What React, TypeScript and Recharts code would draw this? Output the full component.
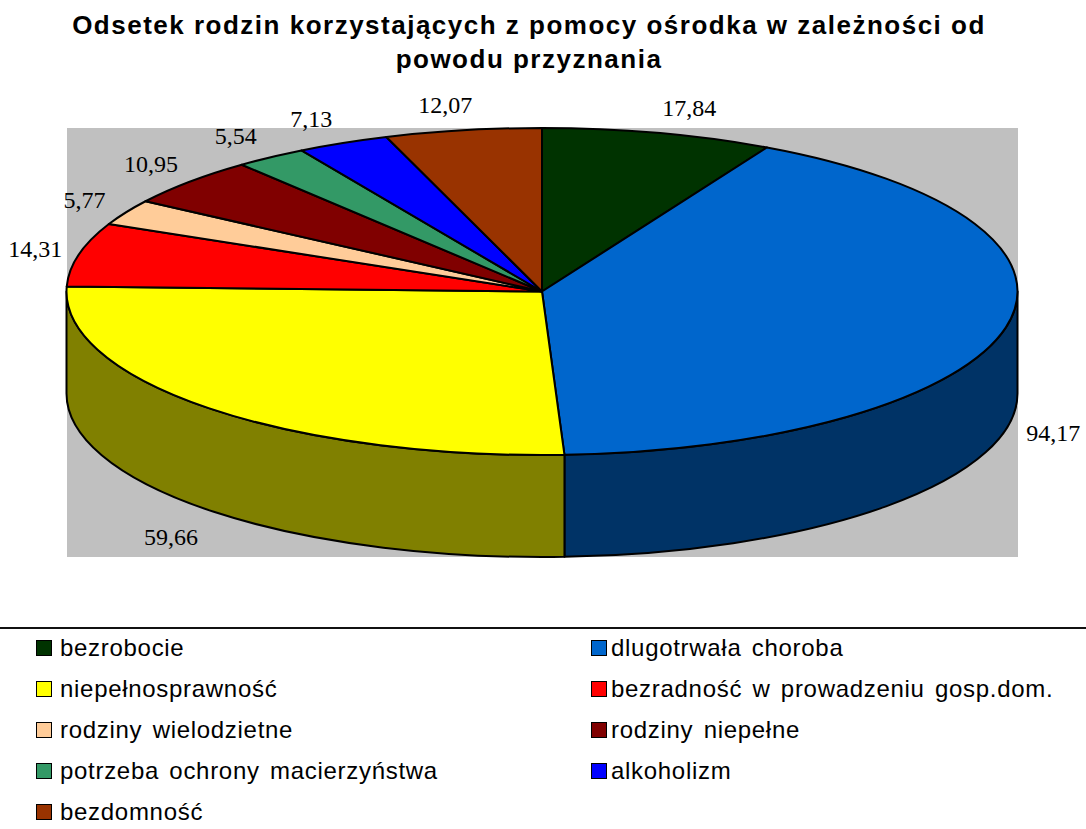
import { PieChart, Pie, Cell, Legend } from 'recharts'

const categories = [
  'bezrobocie',
  'dlugotrwała choroba',
  'niepełnosprawność',
  'bezradność w prowadzeniu gosp.dom.',
  'rodziny wielodzietne',
  'rodziny niepełne',
  'potrzeba ochrony macierzyństwa',
  'alkoholizm',
  'bezdomność'
]
const values = [17.84, 94.17, 59.66, 14.31, 5.77, 10.95, 5.54, 7.13, 12.07]
const topColors = ['#003300', '#0066CC', '#FFFF00', '#FF0000', '#FFCC99', '#800000', '#339966', '#0000FF', '#993300']
const wallColors = ['#001900', '#003366', '#808000', '#7F0000', '#80664C', '#400000', '#1A4C33', '#000080', '#4C1900']
const titleLines = ['Odsetek rodzin korzystających z pomocy ośrodka w zależności od', 'powodu przyznania']

const data = categories.map((name, i) => ({ name, value: values[i] }))

// the pie is flattened into an ellipse, radius is the horizontal one
const CX = 542
const CY = 291.5
const RX = 475.5
const RY = 163.5
const DEPTH = 102

const pt = (angle: number, dy = 0) => {
  const a = (angle * Math.PI) / 180
  return `${CX + RX * Math.cos(a)} ${CY + dy - RY * Math.sin(a)}`
}

function TopSlice(props: any) {
  const { startAngle, endAngle, fill } = props
  const large = Math.abs(startAngle - endAngle) > 180 ? 1 : 0
  const d = `M ${CX} ${CY} L ${pt(startAngle)} A ${RX} ${RY} 0 ${large} 1 ${pt(endAngle)} Z`
  return <path d={d} fill={fill} stroke="#000" strokeWidth={2} strokeLinejoin="round" />
}

function WallSlice(props: any) {
  const { startAngle, endAngle, fill } = props
  // only the front half of the rim can be seen
  const s = Math.min(startAngle, 0)
  const e = Math.max(endAngle, -180)
  if (s <= e) return <g />
  const d = `M ${pt(s)} A ${RX} ${RY} 0 0 1 ${pt(e)} L ${pt(e, DEPTH)} A ${RX} ${RY} 0 0 0 ${pt(s, DEPTH)} Z`
  return <path d={d} fill={fill} stroke="#000" strokeWidth={2} strokeLinejoin="round" />
}

function ValueLabel(props: any) {
  const { midAngle, value } = props
  const a = (midAngle * Math.PI) / 180
  const sin = Math.cos(a)
  const cos = Math.sin(a)
  const shift = Math.min(120 * Math.abs(sin), 25 + 21 * Math.abs(sin))
  const x = CX + RX * sin + Math.sign(sin) * shift + 2
  const front = cos < 0
  const y = CY - RY * cos + (front ? DEPTH - 7 - 47 * cos : -26 * cos) + 8
  return (
    <text x={x} y={y} textAnchor="middle" fontFamily="Liberation Serif" fontSize={24} fill="#000">
      {String(value).replace('.', ',')}
    </text>
  )
}

function LegendBlock(props: any) {
  const items = ((props.payload || []) as any[]).filter(item => topColors.includes(item.color))
  return (
    <div
      style={{
        position: 'absolute',
        left: 0,
        top: 627,
        width: 1086,
        height: 202,
        borderTop: '2px solid #111',
        boxSizing: 'border-box',
        fontFamily: 'Liberation Sans',
        fontSize: 24,
        letterSpacing: 0.7,
        wordSpacing: 3,
        color: '#000'
      }}
    >
      {items.map((item, i) => (
        <div
          key={item.value}
          style={{
            position: 'absolute',
            left: i % 2 === 0 ? 36 : 591,
            top: 1 + Math.floor(i / 2) * 41,
            height: 36,
            lineHeight: '36px',
            whiteSpace: 'nowrap'
          }}
        >
          <span
            style={{
              display: 'inline-block',
              width: 14,
              height: 14,
              background: item.color,
              border: '1px solid #000',
              marginRight: i % 2 === 0 ? 8 : 4
            }}
          />
          {item.value}
        </div>
      ))}
    </div>
  )
}

export default function App() {
  return (
    <div style={{ position: 'absolute', left: 0, top: 0, width: 1086, height: 829, background: '#fff' }}>
      <PieChart width={1086} height={829} margin={{ top: 0, right: 0, bottom: 0, left: 0 }}>
        {titleLines.map((line, i) => (
          <text
            key={line}
            x={529}
            y={34 + i * 34}
            textAnchor="middle"
            fontFamily="Liberation Sans"
            fontWeight="bold"
            fontSize={26}
            letterSpacing={1.5}
            fill="#000"
          >
            {line}
          </text>
        ))}
        <rect x={67} y={128} width={951} height={429} fill="#C0C0C0" />
        <Pie
          data={data}
          dataKey="value"
          nameKey="name"
          cx={CX}
          cy={CY}
          outerRadius={RX}
          startAngle={90}
          endAngle={-270}
          legendType="none"
          shape={WallSlice}
          isAnimationActive={false}
        >
          {wallColors.map(c => (
            <Cell key={c} fill={c} />
          ))}
        </Pie>
        <Pie
          data={data}
          dataKey="value"
          nameKey="name"
          cx={CX}
          cy={CY}
          outerRadius={RX}
          startAngle={90}
          endAngle={-270}
          shape={TopSlice}
          label={ValueLabel}
          labelLine={false}
          isAnimationActive={false}
        >
          {topColors.map(c => (
            <Cell key={c} fill={c} />
          ))}
        </Pie>
        <Legend content={LegendBlock} itemSorter={null} wrapperStyle={{ position: 'static' }} />
      </PieChart>
    </div>
  )
}
